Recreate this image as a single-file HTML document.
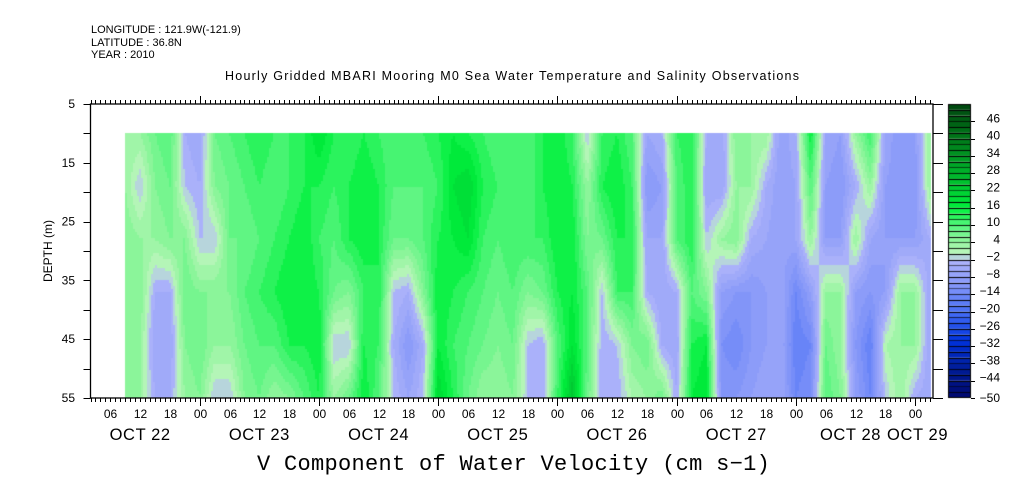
<!DOCTYPE html>
<html><head><meta charset="utf-8">
<style>
body{margin:0;background:#fff;width:1009px;height:504px;overflow:hidden;position:relative;font-family:"Liberation Sans",sans-serif;}
.t{position:absolute;white-space:nowrap;color:#000;}
</style></head>
<body>
<div class="t" style="left:91px;top:24px;font-size:11px">LONGITUDE : 121.9W(-121.9)</div>
<div class="t" style="left:91px;top:37px;font-size:11px">LATITUDE : 36.8N</div>
<div class="t" style="left:91px;top:49px;font-size:11px">YEAR : 2010</div>
<div class="t" style="left:257px;top:452px;font-size:22px;font-family:'Liberation Mono',monospace;letter-spacing:0.3px">V Component of Water Velocity (cm s&minus;1)</div>
<canvas id="hm" width="1009" height="504" style="position:absolute;left:0;top:0"></canvas>
<svg id="ax" width="1009" height="504" style="position:absolute;left:0;top:0">
<text x="225" y="80" font-size="12.5" textLength="574" lengthAdjust="spacing" font-family="Liberation Sans, sans-serif">Hourly Gridded MBARI Mooring M0 Sea Water Temperature and Salinity Observations</text>
</svg>
<script>
const times=[9,12,15,18,21,24,27,30,33,36,39,42,45,48,51,54,57,60,63,66,69,72,75,78,81,84,87,90,93,96,99,102,105,108,111,114,117,120,123,126,129,132,135,138,141,144,147,150,153,156,159,162,165,168,171];
const depths=[10,19,28,37,46,55];
const values=[
[4,4,6,6,6,4],[4,-2,4,6,4,4],[8,6,4,-4,-6,-4],[10,8,6,-4,-6,-4],[-4,-2,6,8,6,4],[-6,-4,-2,6,8,6],
[8,6,-2,6,4,-2],[10,8,8,6,4,-2],[12,10,8,10,8,6],[14,12,10,12,10,8],[12,10,12,14,10,4],[12,12,14,16,14,6],
[14,14,16,16,14,10],[18,14,12,14,16,14],[14,12,10,8,-2,4],[12,14,14,6,-2,8],[14,16,16,12,14,16],[12,14,14,14,12,10],
[10,10,8,-2,-4,-2],[10,10,8,-4,-10,-6],[12,10,10,6,-4,-2],[14,12,14,16,16,20],[16,18,16,14,12,14],[14,20,18,12,10,8],
[12,14,12,10,8,4],[10,12,10,8,6,4],[10,12,12,10,8,6],[10,10,12,6,-2,-2],[14,14,12,8,-4,-4],[16,16,16,14,10,12],
[12,14,16,16,18,24],[-2,4,6,10,10,8],[12,14,8,-2,-4,-4],[14,16,14,12,-2,-4],[10,12,14,12,6,2],[-6,-10,-6,-4,8,4],
[-4,-8,-6,-6,-4,8],[12,10,10,-4,-6,-4],[14,14,14,10,14,16],[-4,-6,-2,6,16,18],[-6,-6,4,-8,-12,-10],[6,4,6,-10,-14,-10],
[4,4,-4,-10,-10,-8],[4,-4,-6,-8,-8,-6],[-8,-8,-8,-6,-6,-6],[-4,-6,-6,-14,-16,-14],[16,10,4,-8,-14,-12],[-6,-8,-8,4,8,10],
[-8,-10,-8,4,4,6],[4,-4,4,-8,-10,-8],[12,4,-6,-10,-16,-14],[-6,-8,-8,-8,2,-2],[-10,-10,-8,4,4,4],[-8,-10,-8,4,4,-4],[4,4,-4,-6,-6,-6]];
const cbLabels=[46,40,34,28,22,16,10,4,-2,-8,-14,-20,-26,-32,-38,-44,-50];
const hourLabels=["06","12","18","00"];
const dateLabels=["OCT 22","OCT 23","OCT 24","OCT 25","OCT 26","OCT 27","OCT 28","OCT 29"];
const datePos=[12,36,60,84,108,132,155,168.5];
const depthTicks=[5,15,25,35,45,55];

const L=90.5,R=933,T=104,B=398,T0=2,T1=171.6;
const xs=t=>L+(t-T0)*(R-L)/(T1-T0);
const ys=d=>T+(d-5)*(B-T)/50;
const VMIN=-50,VMAX=52;
const anchors=[[-50,[0,8,110]],[-40,[0,28,150]],[-30,[0,50,220]],[-20,[70,110,245]],[-12,[125,145,248]],[-2,[175,180,250]],
[0,[190,245,190]],[4,[150,245,160]],[10,[85,245,125]],[16,[0,240,60]],[22,[0,205,50]],[30,[0,170,40]],[40,[0,120,25]],[52,[0,70,15]]];
function col(v){const b=Math.floor(v/2)*2+1;let c=anchors[0][1];
for(let i=0;i<anchors.length-1;i++){const a=anchors[i],z=anchors[i+1];if(b>=a[0]&&b<=z[0]){const f=(b-a[0])/(z[0]-a[0]);c=a[1].map((q,k)=>Math.round(q+(z[1][k]-q)*f));break;}if(b>z[0])c=z[1];}
return `rgb(${c[0]},${c[1]},${c[2]})`;}
function interp(t,d){let i=0;while(i<times.length-2&&t>times[i+1])i++;
let ft=Math.max(0,Math.min(1,(t-times[i])/(times[i+1]-times[i])));
let j=0;while(j<depths.length-2&&d>depths[j+1])j++;
let fd=Math.max(0,Math.min(1,(d-depths[j])/(depths[j+1]-depths[j])));
const a=values[i][j]*(1-fd)+values[i][j+1]*fd,b=values[i+1][j]*(1-fd)+values[i+1][j+1]*fd;return a*(1-ft)+b*ft;}
const ctx=document.getElementById('hm').getContext('2d');
const x0=xs(times[0]),x1=xs(times[times.length-1]),y0=ys(depths[0]),y1=ys(depths[depths.length-1]);
for(let x=Math.round(x0);x<x1;x+=2){for(let y=Math.round(y0);y<y1;y+=3){
const t=times[0]+(x+1-x0)/(x1-x0)*(times[times.length-1]-times[0]);
const d=depths[0]+(y+1.5-y0)/(y1-y0)*(depths[depths.length-1]-depths[0]);
ctx.fillStyle=col(interp(t,d));ctx.fillRect(x,y,2,Math.min(3,y1-y));}}
const CX=948,CW=23,cby=v=>B-(v-VMIN)/(VMAX-VMIN)*(B-T);
for(let v=VMIN;v<VMAX;v+=2){ctx.fillStyle=col(v);ctx.fillRect(CX,cby(v+2),CW,cby(v)-cby(v+2));
ctx.fillStyle='#000';ctx.fillRect(CX,Math.round(cby(v+2)),CW,1);}
ctx.strokeStyle='#000';ctx.strokeRect(CX+.5,T+.5,CW-1,B-T-1);

const svg=document.getElementById('ax');const NS='http://www.w3.org/2000/svg';
function mk(tag,at,txt){const e=document.createElementNS(NS,tag);for(const k in at)e.setAttribute(k,at[k]);if(txt!==undefined)e.textContent=txt;svg.appendChild(e);return e;}
let e=mk('rect',{x:L,y:T,width:R-L,height:B-T,fill:'none',stroke:'#000','stroke-width':1.3});


for(let h=Math.ceil(T0);h<=T1;h++){const x=Math.round(xs(h))+.5;const len=h%24===0?8:4;
e=mk('line',{x1:x,x2:x,y1:B,y2:B+len,stroke:'#000'});


e=mk('line',{x1:x,x2:x,y1:T,y2:T-len,stroke:'#000'});


if(h%6===0){e=mk('text',{x:x,y:418,'font-size':12,'text-anchor':'middle','font-family':'Liberation Sans, sans-serif'},hourLabels[(h/6-1+4)%4]);

}}
dateLabels.forEach((s,i)=>{const x=xs(datePos[i]);
e=mk('text',{x:x,y:440,'font-size':16.5,'text-anchor':'middle','letter-spacing':'0.6','font-family':'Liberation Sans, sans-serif'},s);

});
for(let d=5;d<=55;d+=5){const y=Math.round(ys(d))+.5;
e=mk('line',{x1:L-7,x2:L,y1:y,y2:y,stroke:'#000'});


e=mk('line',{x1:R,x2:R+10,y1:y,y2:y,stroke:'#000'});

}
depthTicks.forEach(d=>{e=mk('text',{x:75,y:ys(d)+4,'font-size':12,'text-anchor':'end','font-family':'Liberation Sans, sans-serif'},String(d));

});
e=mk('text',{x:52,y:251,'font-size':12,'text-anchor':'middle',transform:'rotate(-90 52 251)','font-family':'Liberation Sans, sans-serif'},'DEPTH (m)');


cbLabels.forEach(v=>{const y=v===-50?B:cby(v)-3;
e=mk('line',{x1:CX+CW,x2:CX+CW+4,y1:Math.round(cby(v))+.5,y2:Math.round(cby(v))+.5,stroke:'#000'});


e=mk('text',{x:1000,y:y+4,'font-size':12,'text-anchor':'end','font-family':'Liberation Sans, sans-serif'},String(v).replace('-','\u2212'));

});
</script>
</body></html>
